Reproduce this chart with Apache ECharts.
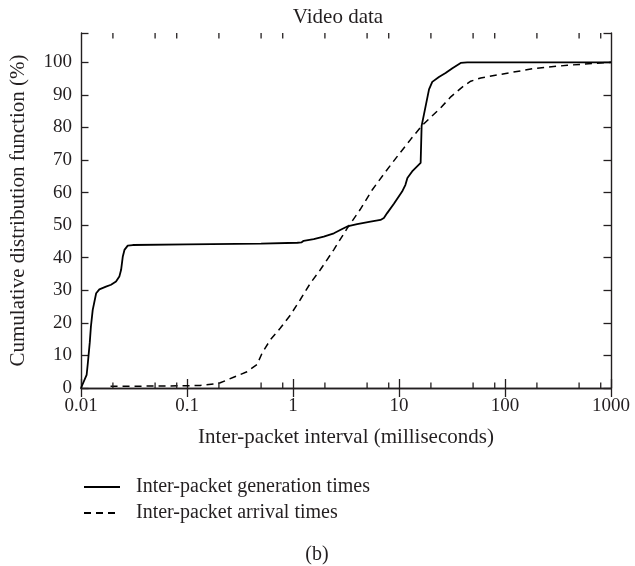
<!DOCTYPE html>
<html>
<head>
<meta charset="utf-8">
<script src="https://cdn.jsdelivr.net/npm/echarts@6/dist/echarts.min.js"></script>
<style>
  html, body { margin: 0; padding: 0; background: #fff; }
  #chart { width: 635px; height: 566px; }
</style>
</head>
<body>
<div id="chart"></div>
<script>
// Inter-packet generation times (ms -> cumulative %)
const genX = [0.01, 0.0113, 0.0116, 0.0121, 0.0124, 0.0129, 0.0139, 0.0149, 0.0172, 0.0192, 0.0214, 0.023, 0.0239, 0.0248, 0.0257, 0.0276, 0.0308, 0.1, 0.5, 1.1, 1.2, 1.26, 1.57, 1.95, 2.43, 2.91, 3.25, 4.03, 5.38, 6.69, 7.2, 7.73, 8.95, 10.7, 11.5, 12.0, 13.3, 16.0, 16.3, 16.35, 17.2, 19.2, 20.6, 23.8, 27.5, 31.9, 38.2, 44, 1000];
const genY = [0, 4, 7.6, 14, 18.8, 24, 29.1, 30.3, 31.1, 31.7, 32.7, 34.2, 36.3, 40.4, 42.4, 43.7, 43.9, 44.1, 44.3, 44.6, 44.7, 45.2, 45.7, 46.5, 47.5, 48.8, 49.6, 50.3, 51.1, 51.6, 52.2, 53.7, 56.6, 60.3, 62.4, 64.5, 66.5, 69.1, 69.6, 80.5, 84, 91.7, 94, 95.5, 96.7, 98.2, 99.8, 100, 100];

// Inter-packet arrival times (ms -> cumulative %)
const arrX = [0.019, 0.05, 0.1, 0.133, 0.178, 0.206, 0.275, 0.368, 0.458, 0.511, 0.611, 0.76, 0.944, 1.17, 1.46, 1.81, 2.43, 3.24, 4.3, 5.58, 7.5, 10, 13, 16.3, 20, 24.7, 30.8, 41, 47.5, 59, 91, 188, 389, 1000];
const arrY = [0.5, 0.6, 0.7, 0.8, 1.2, 1.6, 3.3, 5.0, 7.2, 10.7, 14.8, 18.4, 22.4, 27.1, 32.2, 36.3, 42.5, 49, 54.8, 60.8, 66.5, 71.8, 76.5, 80.4, 83.2, 86, 89.4, 92.8, 94.2, 95.2, 96.3, 98.1, 99.1, 100];

// Axis ranges and tick values
const xMin = 0.01, xMax = 1000;
const yMin = 0, yMax = 109, yStep = 10;
const minorTicks = [0.02, 0.05, 0.08, 0.2, 0.5, 0.8, 2, 5, 8, 20, 50, 80, 200, 500, 800];

const seriesNames = ['Inter-packet generation times', 'Inter-packet arrival times'];

const FONT = '"Liberation Serif", "DejaVu Serif", serif';
const INK = '#231f20';

const chart = echarts.init(document.getElementById('chart'), null, { renderer: 'canvas' });

const frameLine = { show: true, lineStyle: { color: INK, width: 1.4 } };

chart.setOption({
  animation: false,
  backgroundColor: '#fff',
  title: {
    text: 'Video data',
    left: 338,
    top: 7,
    padding: 0,
    textAlign: 'center',
    textStyle: { fontFamily: FONT, fontSize: 21, fontWeight: 'normal', color: INK }
  },
  grid: { left: 81, right: 24, top: 33, bottom: 178, containLabel: false, outerBoundsMode: 'none' },
  legend: {
    orient: 'vertical',
    left: 78,
    top: 472,
    itemWidth: 36,
    itemHeight: 14,
    itemGap: 6,
    data: seriesNames,
    itemStyle: { opacity: 0 },
    textStyle: { fontFamily: FONT, fontSize: 20, color: INK, lineHeight: 20, padding: [0, 0, 0, 11] }
  },
  graphic: [{
    type: 'text',
    x: 317, y: 555,
    style: { text: '(b)', font: '20px ' + FONT, fill: INK, textAlign: 'center', textVerticalAlign: 'middle' }
  }],
  xAxis: [{
    type: 'log', logBase: 10, min: xMin, max: xMax, position: 'bottom',
    axisLine: frameLine,
    axisTick: { show: true, inside: true, length: 9, lineStyle: { color: INK, width: 1.3 } },
    axisLabel: {
      fontFamily: FONT, fontSize: 19, color: INK, margin: 9,
      formatter: v => String(+(+v).toPrecision(3))
    },
    splitLine: { show: false },
    name: 'Inter-packet interval (milliseconds)',
    nameLocation: 'middle',
    nameGap: 39,
    nameTextStyle: { fontFamily: FONT, fontSize: 21, color: INK }
  }, {
    type: 'log', logBase: 10, min: xMin, max: xMax, position: 'top',
    axisLine: frameLine,
    axisTick: { show: true, inside: true, length: 9, lineStyle: { color: INK, width: 1.3 } },
    axisLabel: { show: false },
    splitLine: { show: false }
  }],
  yAxis: [{
    type: 'value', min: yMin, max: yMax, interval: yStep, position: 'left',
    axisLine: frameLine,
    axisTick: { show: true, inside: true, length: 7.5, lineStyle: { color: INK, width: 1.3 } },
    axisLabel: {
      fontFamily: FONT, fontSize: 19, color: INK, margin: 9,
      formatter: v => (v % yStep === 0 && v <= 100) ? String(v) : ''
    },
    splitLine: { show: false },
    name: 'Cumulative distribution function (%)',
    nameLocation: 'middle',
    nameGap: 52,
    nameRotate: 90,
    nameTextStyle: { fontFamily: FONT, fontSize: 21, color: INK }
  }, {
    type: 'value', min: yMin, max: yMax, interval: yStep, position: 'right',
    axisLine: frameLine,
    axisTick: { show: true, inside: true, length: 7.5, lineStyle: { color: INK, width: 1.3 } },
    axisLabel: { show: false },
    splitLine: { show: false }
  }],
  series: [{
    name: seriesNames[0],
    type: 'line',
    xAxisIndex: 0, yAxisIndex: 0,
    symbol: 'none',
    lineStyle: { color: '#000', width: 1.8, type: 'solid' },
    itemStyle: { color: '#000' },
    data: genX.map((x, i) => [x, genY[i]]),
    z: 3
  }, {
    name: seriesNames[1],
    type: 'line',
    xAxisIndex: 0, yAxisIndex: 0,
    symbol: 'none',
    lineStyle: { color: '#000', width: 1.5, type: [7, 5] },
    itemStyle: { color: '#000' },
    data: arrX.map((x, i) => [x, arrY[i]]),
    z: 3
  }, {
    // short minor ticks at 2, 5 and 8 of each decade on the bottom and top edges
    type: 'custom',
    xAxisIndex: 0, yAxisIndex: 0,
    silent: true,
    data: minorTicks.map(v => [v, yMin]),
    renderItem: (params, api) => {
      const v = api.value(0);
      const b = api.coord([v, yMin]);
      const t = api.coord([v, yMax]);
      const st = { stroke: INK, lineWidth: 1.3 };
      return {
        type: 'group',
        children: [
          { type: 'line', shape: { x1: b[0], y1: b[1], x2: b[0], y2: b[1] - 5.5 }, style: st },
          { type: 'line', shape: { x1: t[0], y1: t[1], x2: t[0], y2: t[1] + 5.5 }, style: st }
        ]
      };
    },
    z: 4
  }]
});
</script>
</body>
</html>
